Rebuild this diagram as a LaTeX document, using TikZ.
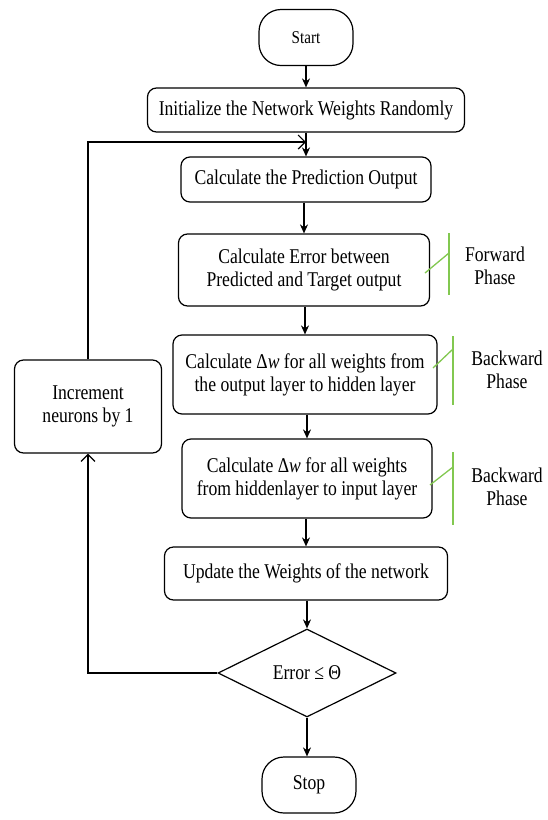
\documentclass[tikz,border=0pt]{standalone}
\usepackage{fontspec}
\setmainfont{Liberation Serif}[FakeStretch=0.84]
\usetikzlibrary{arrows.meta,shapes.geometric}
\definecolor{phasegreen}{RGB}{130,200,80}
\begin{document}
\begin{tikzpicture}[x=1pt,y=-1pt,
  every node/.style={font=\fontsize{21}{23}\selectfont},
  box/.style={draw, rounded corners=9pt, line width=1.2pt, align=center, inner sep=0pt},
  term/.style={draw, rounded corners=22pt, line width=1.2pt, inner sep=0pt, minimum width=94pt, minimum height=56pt},
  dec/.style={draw, diamond, aspect=2, line width=1.2pt, inner sep=0pt, minimum width=178pt, minimum height=88pt},
  flow/.style={line width=1.2pt, -{Stealth[length=9pt,width=8pt]}},
  loopback/.style={line width=1.2pt, -{Straight Barb[length=7pt,width=14pt]}},
  phase/.style={draw=phasegreen, line width=1.3pt},
  lbl/.style={align=center, inner sep=0pt}]
\useasboundingbox (0,0) rectangle (547,820);
\node[term, font=\fontsize{18}{20}\selectfont] (start) at (306,37.5) {Start};
\node[box, minimum width=317pt, minimum height=44pt] (init) at (306,110) {Initialize the Network Weights Randomly};
\node[box, minimum width=250pt, minimum height=45pt] (pred) at (306,179.5) {Calculate the Prediction Output};
\node[box, minimum width=251pt, minimum height=72pt] (err) at (304,270) {Calculate Error between\\Predicted and Target output};
\node[box, minimum width=264pt, minimum height=79pt] (dwa) at (305,374.5) {Calculate Δ\textit{w} for all weights from\\the output layer to hidden layer};
\node[box, minimum width=250pt, minimum height=79pt] (dwb) at (307,478.5) {Calculate Δ\textit{w} for all weights\\from hiddenlayer to input layer};
\node[box, minimum width=283pt, minimum height=53pt] (upd) at (306,573.5) {Update the Weights of the network};
\node[dec] (dec) at (307,673) {Error ≤ Θ};
\node[term] (stop) at (309,785) {Stop};
\node[box, minimum width=147pt, minimum height=93pt] (incr) at (88,406.5) {Increment\\neurons by 1};
\coordinate (loopin) at (306,142);
\draw[flow] (start) -- (init);
\draw[flow] (init.south -| pred.north) -- (pred.north);
\draw[flow] (pred.south -| err.north) -- (err.north);
\draw[flow] (err.south -| dwa.north) -- (dwa.north);
\draw[flow] (dwa.south -| dwb.north) -- (dwb.north);
\draw[flow] (dwb.south -| upd.north) -- (upd.north);
\draw[flow] (upd.south -| dec.north) -- (dec.north);
\draw[flow] (dec.south) -- (dec.south |- stop.north);
\draw[loopback] (incr.north) |- (loopin);
\draw[loopback] (dec.west) -| (incr.south);
\draw[phase] (449,233) -- (449,295);
\draw[phase] (425,273) -- (449,253);
\draw[phase] (453,336) -- (453,405);
\draw[phase] (433,368) -- (453,349);
\draw[phase] (453,452) -- (453,525);
\draw[phase] (430,485) -- (453,467);
\node[lbl] (fwd) at (495,266) {Forward\\Phase};
\node[lbl] (bwa) at (507,370) {Backward\\Phase};
\node[lbl] (bwb) at (507,487) {Backward\\Phase};
\end{tikzpicture}
\end{document}
